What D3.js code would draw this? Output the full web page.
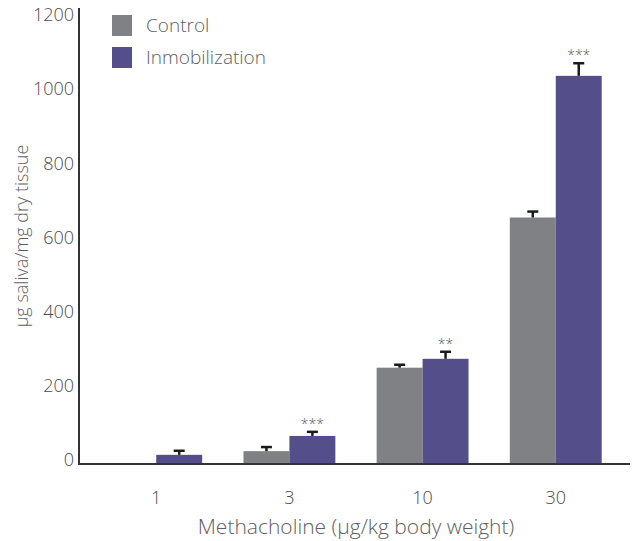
<!DOCTYPE html>
<html>
<head>
<meta charset="utf-8">
<script src="https://cdn.jsdelivr.net/npm/d3@7"></script>
<style>
  body { margin: 0; background: #fff; }
  svg { display: block; font-family: "Open Sans", "Noto Sans", sans-serif; font-weight: 300; }
  .tick-label { fill: #4a4a4a; font-size: 18px; }
  .axis-title { fill: #5e5e5e; font-size: 18px; }
  .legend-label { fill: #5e5e5e; font-size: 19px; }
  .stars { fill: #555; font-size: 14px; }
</style>
</head>
<body>
<div id="chart"></div>
<script>
const doses = ["1", "3", "10", "30"];
const series = ["Control", "Inmobilization"];
const controlValues = [0, 32, 257, 662];
const controlErrors = [0, 11, 8, 16];
const inmobValues = [22, 73, 281, 1044];
const inmobErrors = [11, 11, 19, 34];
const inmobStars = ["", "***", "**", "***"];
const yTicks = [0, 200, 400, 600, 800, 1000, 1200];

const WIDTH = 634;
const HEIGHT = 541;
const COLORS = { Control: "#808184", Inmobilization: "#544f8a" };

const rows = doses.map((dose, i) => ({
  dose,
  bars: [
    { key: "Control", value: controlValues[i], err: controlErrors[i], stars: "" },
    { key: "Inmobilization", value: inmobValues[i], err: inmobErrors[i], stars: inmobStars[i] }
  ]
}));

const svg = d3.select("#chart")
  .append("svg")
  .attr("width", WIDTH)
  .attr("height", HEIGHT);

const axisLeft = 79;
const axisRight = 630;

const y = d3.scaleLinear().domain([0, 1200]).range([463, 18]);
const x0 = d3.scaleBand().domain(doses).range([69, 643]).paddingInner(0.31).paddingOuter(0.31);
const x1 = d3.scaleBand().domain(series).range([0, x0.bandwidth()]);

// bars
const groups = svg.append("g")
  .selectAll("g")
  .data(rows)
  .join("g")
  .attr("transform", (d) => `translate(${x0(d.dose)},0)`);

groups.selectAll("rect")
  .data((d) => d.bars.filter((b) => b.value > 0))
  .join("rect")
  .attr("x", (d) => x1(d.key))
  .attr("width", x1.bandwidth())
  .attr("y", (d) => y(d.value))
  .attr("height", (d) => y(0) - y(d.value))
  .attr("fill", (d) => COLORS[d.key]);

// error bars (upper only)
const errs = groups.selectAll("g.err")
  .data((d) => d.bars.filter((b) => b.err > 0))
  .join("g")
  .attr("class", "err")
  .attr("transform", (d) => `translate(${x1(d.key) + x1.bandwidth() / 2},0)`);

errs.append("line")
  .attr("y1", (d) => y(d.value))
  .attr("y2", (d) => y(d.value + d.err))
  .attr("stroke", "#1a1a1a")
  .attr("stroke-width", 2.5);

errs.append("line")
  .attr("x1", -5.5)
  .attr("x2", 5.5)
  .attr("y1", (d) => y(d.value + d.err))
  .attr("y2", (d) => y(d.value + d.err))
  .attr("stroke", "#1a1a1a")
  .attr("stroke-width", 2.5);

errs.filter((d) => d.stars)
  .append("text")
  .attr("class", "stars")
  .attr("text-anchor", "middle")
  .attr("y", (d) => y(d.value + d.err) - 3)
  .text((d) => d.stars);

// axes
svg.append("line")
  .attr("x1", axisLeft).attr("x2", axisLeft)
  .attr("y1", 8).attr("y2", y(0) + 1)
  .attr("stroke", "#333").attr("stroke-width", 2);

svg.append("line")
  .attr("x1", axisLeft - 1).attr("x2", axisRight)
  .attr("y1", y(0) + 1).attr("y2", y(0) + 1)
  .attr("stroke", "#333").attr("stroke-width", 2);

svg.append("g")
  .selectAll("text")
  .data(yTicks)
  .join("text")
  .attr("class", "tick-label")
  .attr("text-anchor", "end")
  .attr("x", axisLeft - 5)
  .attr("y", (d) => y(d) - 3)
  .attr("dy", "0.35em")
  .text((d) => d);

svg.append("g")
  .selectAll("text")
  .data(doses)
  .join("text")
  .attr("class", "tick-label")
  .attr("text-anchor", "middle")
  .attr("x", (d) => x0(d) + x0.bandwidth() / 2)
  .attr("y", 504)
  .text((d) => d);

svg.append("text")
  .attr("class", "axis-title")
  .attr("text-anchor", "middle")
  .attr("x", 356)
  .attr("y", 534)
  .style("font-size", "21px")
  .text("Methacholine (µg/kg body weight)");

svg.append("text")
  .attr("class", "axis-title")
  .attr("text-anchor", "middle")
  .attr("transform", "translate(28,236) rotate(-90)")
  .text("µg saliva/mg dry tissue");

// legend
const legend = svg.append("g")
  .selectAll("g")
  .data(series)
  .join("g")
  .attr("transform", (d, i) => `translate(112,${15 + i * 32})`);

legend.append("rect")
  .attr("width", 20)
  .attr("height", 21)
  .attr("fill", (d) => COLORS[d]);

legend.append("text")
  .attr("class", "legend-label")
  .attr("x", 34)
  .attr("y", 17)
  .text((d) => d);
</script>
</body>
</html>
